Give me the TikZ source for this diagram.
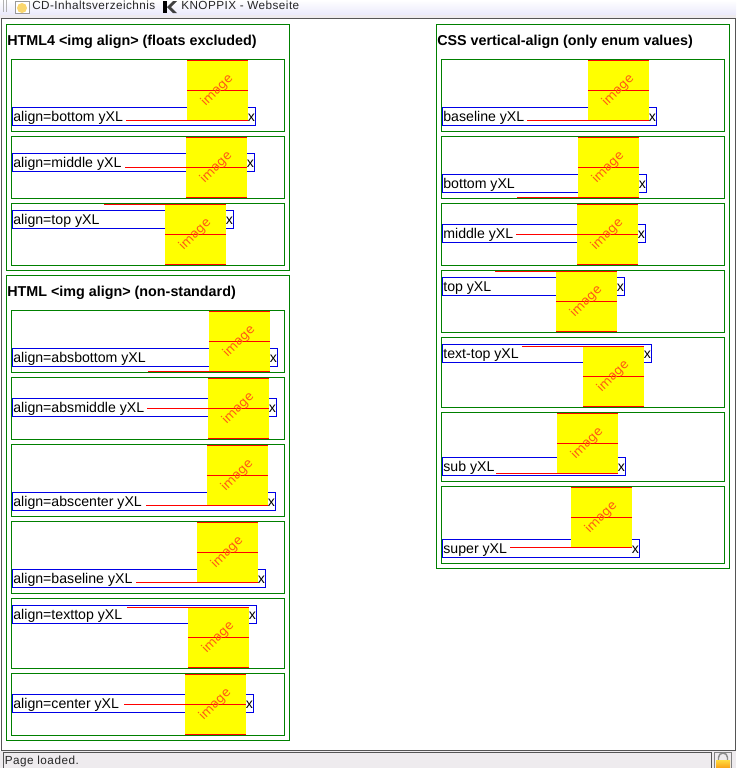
\documentclass[tikz,border=0pt]{standalone}
\usepackage{fontspec}
\setmainfont{Liberation Sans}
\newfontfamily\chromefont[LetterSpace=3.8]{Liberation Sans}
\newfontfamily\statfont[LetterSpace=4.2]{Liberation Sans}
\newfontfamily\imgfont{DejaVu Sans}
\definecolor{boxgreen}{RGB}{0,128,0}
\definecolor{boxblue}{RGB}{0,0,230}
\definecolor{linered}{RGB}{255,0,0}
\definecolor{imgyellow}{RGB}{255,255,0}
\definecolor{imgtext}{RGB}{255,90,20}
\definecolor{chromebg}{RGB}{238,235,238}
\definecolor{framegray}{RGB}{85,85,85}
\definecolor{lockorange}{RGB}{250,160,20}
\definecolor{locklight}{RGB}{255,215,60}
\definecolor{iconyellow}{RGB}{250,215,110}
\tikzset{
  px/.style={line width=0.75pt},
  greenbox/.style={draw=boxgreen,px,fill=white},
  bluebox/.style={draw=boxblue,px},
  redline/.style={draw=linered,px},
  cell/.style={anchor=base west,inner sep=0pt,font=\fontsize{10.6pt}{12pt}\selectfont},
  heading/.style={anchor=base west,inner sep=0pt,font=\fontsize{10.75pt}{12pt}\selectfont\bfseries},
  imglabel/.style={rotate=45,inner sep=0pt,text=imgtext,font=\imgfont\fontsize{9.4pt}{11pt}\selectfont},
  chrome/.style={anchor=base west,inner sep=0pt,text=black!85,font=\chromefont\fontsize{8.8pt}{10pt}\selectfont},
}
\begin{document}
\begin{tikzpicture}[x=0.75pt,y=-0.75pt]
\useasboundingbox (0,0) rectangle (736,768);
\fill[white] (0,0) rectangle (736,768);
% window chrome
\fill[chromebg] (0,0) rectangle (736,19);
\shade[top color=white,bottom color=chromebg!80!blue!30] (0,0) rectangle (736,14);
\draw[framegray,px] (1.5,751) -- (1.5,18.5) -- (735.5,18.5) -- (735.5,751);
\fill[chromebg] (0,751) rectangle (736,768);
\draw[framegray,line width=1pt] (1.5,750.8) -- (735.5,750.8);
\draw[framegray,px] (3.5,768) -- (3.5,752.5) -- (711,752.5) -- (711,768);
\draw[black!50,px] (714.5,768) -- (714.5,752.5) -- (731,752.5) -- (731,768);
\draw[black!30,px] (3,0) -- (3,12) (6,0) -- (6,12);
% folder icon
\fill[white,draw=black!40,px] (15,1) rectangle (29,13);
\fill[iconyellow] (22,8) circle (5);
% K logo
\fill[black] (163,1) -- (167,1) -- (167,13) -- (163,13) -- cycle;
\fill[black!75] (167,7) -- (173,1) -- (177,1) -- (171,7) -- (177,13) -- (173,13) -- cycle;
% padlock
\draw[black!45,line width=1.1pt] (718.5,761) -- (718.5,757.5) arc (180:360:4.5) -- (727.5,761);
\shade[top color=locklight,bottom color=lockorange] (716,760.5) rectangle (730,768);
\node[chrome] (crumbA) at (32,9.5) {CD-Inhaltsverzeichnis};
\node[chrome] (crumbB) at (181,9.5) {KNOPPIX - Webseite};
\node[anchor=base west,inner sep=0pt,text=black!85,font=\statfont\fontsize{8.8pt}{10pt}\selectfont] (status) at (4.5,764) {Page loaded.};
% outer boxes
\draw[greenbox] (6.5,24.5) rectangle (289.5,270);
\draw[greenbox] (6.5,275.5) rectangle (289.5,740.5);
\draw[greenbox] (436.5,24.5) rectangle (729.5,568.5);
\node[heading] (headA) at (7,45) {HTML4 <img align> (floats excluded)};
\node[heading] (headB) at (7,296) {HTML <img align> (non-standard)};
\node[heading] (headC) at (437,45) {CSS vertical-align (only enum values)};
% rows: name / inner x1 / inner x2 / inner y1 / inner y2 / blue x2 / blue y1 / image x1 / image y1 / image y2 / mid / line x1 / line y / text
\foreach \nm/\ia/\ib/\it/\ibm/\bx/\by/\xa/\ya/\yb/\ym/\lx/\ly/\txt in {
 a/11.5/284.5/59.5/131/255.5/107.5/187/60.5/120.5/90.5/126/120.5/align=bottom yXL,
 b/11.5/284.5/136.5/198.5/254.5/153.5/186/137/197.5/167.5/125/167.5/align=middle yXL,
 c/11.5/284.5/203.5/265.5/233.5/210.5/165/204.5/264.5/234.5/104/204.5/align=top yXL,
 d/11.5/284.5/310.5/372.5/277.5/348.5/209/311/371.5/341.5/148/371.5/align=absbottom yXL,
 e/11.5/284.5/377.5/439.5/276.5/398.5/208/378/438.5/408.5/147/408.5/align=absmiddle yXL,
 f/11.5/284.5/444.5/516.5/275.5/492.5/207/445.5/505.5/475.5/146/505.5/align=abscenter yXL,
 g/11.5/284.5/521.5/593.5/265.5/569.5/197/522.5/582.5/552.5/136/582.5/align=baseline yXL,
 h/11.5/284.5/598.5/668.5/256.5/605.5/188/607.5/667.5/637.5/127/607.5/align=texttop yXL,
 i/11.5/284.5/673.5/735.5/253.5/694.5/185/674.5/734.5/704.5/124/704.5/align=center yXL,
 j/441.5/724.5/59.5/131.5/656.5/107.5/588/60.5/120.5/90.5/527/120.5/baseline yXL,
 k/441.5/724.5/136.5/198.5/646.5/174.5/578/137.5/197.5/167.5/517/197.5/bottom yXL,
 l/441.5/724.5/203.5/265.5/645.5/224.5/577/204.5/264.5/234.5/516/234.5/middle yXL,
 m/441.5/724.5/270.5/332.5/624.5/277.5/556/271.5/331.5/301.5/495/271.5/top yXL,
 n/441.5/724.5/337.5/407.5/651.5/344.5/583/346.5/406.5/376.5/522/346.5/text-top yXL,
 o/441.5/724.5/412.5/481.5/625.5/457.5/557/413.5/473.5/443.5/496/473.5/sub yXL,
 p/441.5/724.5/486.5/563.5/639.5/539.5/571/487.5/547.5/517.5/510/547.5/super yXL}
{
  \pgfmathsetmacro{\bxa}{\ia+1}
  \pgfmathsetmacro{\byb}{\by+18}
  \pgfmathsetmacro{\xb}{\xa+61}
  \pgfmathsetmacro{\base}{\by+14}
  \pgfmathsetmacro{\tx}{\ia+1.6}
  \pgfmathsetmacro{\cx}{\xa+30}
  \draw[greenbox] (\ia,\it) rectangle (\ib,\ibm);
  \draw[bluebox] (\bxa,\by) rectangle (\bx,\byb);
  \node[cell] (t\nm) at (\tx,\base) {\txt};
  \fill[imgyellow] (\xa,\ya-0.5) rectangle (\xb,\yb+0.5);
  \coordinate (lineA\nm) at (\lx,\ly);
  \coordinate (lineB\nm) at (\xb,\ly);
  \draw[redline] (lineA\nm) -- (lineB\nm);
  \draw[redline] (\xa,\ya) -- (\xb,\ya);
  \draw[redline] (\xa,\ym) -- (\xb,\ym);
  \draw[redline] (\xa,\yb) -- (\xb,\yb);
  \node[imglabel] (img\nm) at (\cx,\ym) {image};
  \node[cell] (x\nm) at (\xb-0.3,\base) {x};
}
\end{tikzpicture}
\end{document}
